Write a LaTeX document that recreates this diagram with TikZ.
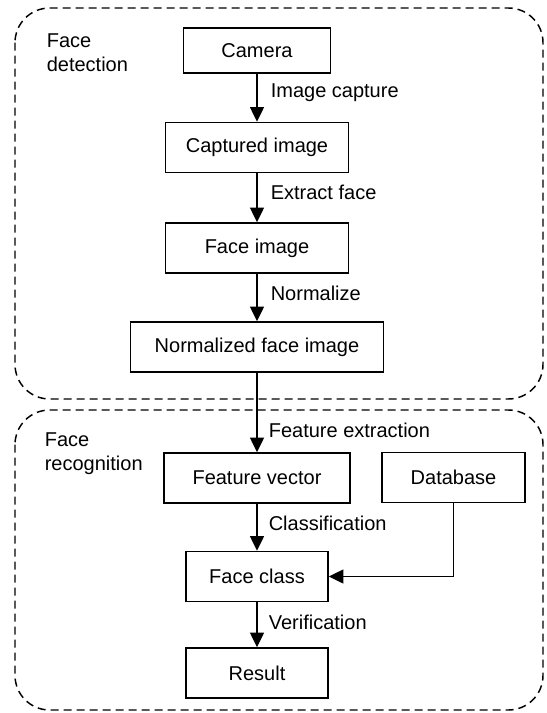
\documentclass[tikz,border=0pt]{standalone}
\usepackage{fontspec}
\setmainfont{Liberation Sans}
\usepackage{tikz}
\usetikzlibrary{arrows.meta}

\tikzset{
  stage/.style={draw,line width=1.2pt,inner sep=0pt,minimum height=37.5pt,font=\fontsize{15}{18}\selectfont},
  lbl/.style={anchor=west,inner sep=0pt,font=\fontsize{15}{18}\selectfont},
  region/.style={draw,dashed,line width=1.1pt,dash pattern=on 6pt off 3.75pt,rounded corners=26pt}
}

\begin{document}
\begin{tikzpicture}[x=0.75pt,y=-0.75pt,>={Triangle[length=11pt,width=10.5pt]},line width=1.2pt]
  \useasboundingbox (0,0) rectangle (546,713);
  % the two dashed regions
  \draw[region] (15,8) rectangle (543,399);
  \draw[region] (15,410) rectangle (543,710);
  \node[lbl,anchor=north west,align=left] (detlbl) at (46,33) {Face\\detection};
  \node[lbl,anchor=north west,align=left] (reclbl) at (44,432) {Face\\recognition};
  % boxes
  \node[stage,minimum width=110.25pt,minimum height=33.75pt] (cam) at (257,50.5) {Camera};
  \node[stage,minimum width=137.25pt] (cap) at (257,147.5) {Captured image};
  \node[stage,minimum width=137.25pt] (face) at (257,248) {Face image};
  \node[stage,minimum width=189.75pt] (norm) at (257,347) {Normalized face image};
  \node[stage,minimum width=139.5pt] (feat) at (257,478) {Feature vector};
  \node[stage,minimum width=107.25pt] (db) at (453.5,477.5) {Database};
  \node[stage,minimum width=106.5pt] (cls) at (257,576.5) {Face class};
  \node[stage,minimum width=106.5pt] (res) at (257,673) {Result};
  % arrows down the chain
  \foreach \a/\b in {cam/cap,cap/face,face/norm,norm/feat,feat/cls,cls/res}
    \draw[->] (\a.south) -- (\b.north);
  \draw[->] (db.south) |- (cls.east);
  % arrow labels
  \node[lbl] (l1) at (270,93) {Image capture};
  \node[lbl] (l2) at (270,192) {Extract face};
  \node[lbl] (l3) at (270,293) {Normalize};
  \node[lbl] (l4) at (268,430) {Feature extraction};
  \node[lbl] (l5) at (268,523) {Classification};
  \node[lbl] (l6) at (268,622) {Verification};
\end{tikzpicture}
\end{document}
